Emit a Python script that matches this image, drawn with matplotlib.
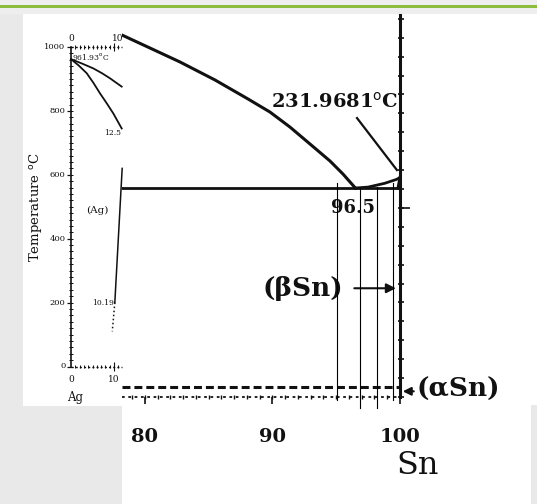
import matplotlib
matplotlib.use("Agg")
import matplotlib.pyplot as plt
from matplotlib.patches import Rectangle

# main panel: Sn-rich corner of the Ag-Sn diagram (wt% Sn, deg C)
liq_x = [78.20, 80.39, 82.75, 85.49, 88.08, 89.80, 91.37, 92.94, 94.51, 95.53, 96.5]
liq_T = [382.8, 369.1, 354.3, 335.3, 315.2, 301.4, 285.5, 267.6, 249.6, 235.8, 221.0]
snliq_x = [96.5, 97.5, 98.8, 99.7, 100.0]
snliq_T = [221.0, 222.0, 226.0, 230.0, 232.0]
sol_x = [100.0, 99.85]
sol_T = [232.0, 221.0]
eutectic_T = 221.0
alpha_T = 11.0
guide_x = [95.06, 96.9, 98.2, 99.45]
guide_top = [226, 221, 222, 226]
guide_bot = [-3, -12, -12, -3]
main_ticks = [80, 90, 100]

# inset: Ag-rich corner
in_liq_x = [0.0, 2.6, 5.19, 7.2, 9.07, 11.79]
in_liq_T = [961.93, 948, 933, 918, 902, 876]
in_sol_x = [0.0, 1.8, 3.65, 5.2, 6.74, 8.3, 9.84, 11.79]
in_sol_T = [961.93, 942, 918, 888, 855, 824, 792, 745]
in_solv_x = [11.9, 10.19]
in_solv_T = [620, 200]
in_solv_dot_x = [10.19, 9.6]
in_solv_dot_T = [200, 110]
in_yticks = [0, 200, 400, 600, 800, 1000]

W, H = 537, 504


def box(x0, y0, x1, y1):
    return [x0 / W, 1 - y1 / H, (x1 - x0) / W, (y1 - y0) / H]


def rect(x0, y0, x1, y1, color, z):
    b = box(x0, y0, x1, y1)
    fig.add_artist(Rectangle((b[0], b[1]), b[2], b[3], transform=fig.transFigure,
                             facecolor=color, edgecolor="none", zorder=z))


fig = plt.figure(figsize=(W / 100, H / 100), dpi=100, facecolor="#e9e9e9")
rect(0, 0, W, 5, "#efefef", -1)
rect(0, 5, W, 8, "#8dbd3e", -1)
rect(0, 8, W, 14, "#eeeeee", -1)
rect(122, 14, W, 405, "white", -1)
rect(122, 405, 531, H, "white", -1)

serif = "DejaVu Serif"
ink = "#111111"

# ---- main axes
ax = fig.add_axes(box(122, 15, 400, 397))
ax.set_zorder(1)
ax.patch.set_alpha(0)
ax.set_xlim(78.2, 100)
ax.set_ylim(0, 404)
ax.axis("off")

ax.plot(liq_x, liq_T, color=ink, lw=2.2, clip_on=False, solid_joinstyle="round")
ax.plot(snliq_x, snliq_T, color=ink, lw=2.0, clip_on=False)
ax.plot(sol_x, sol_T, color=ink, lw=2.2, clip_on=False)
ax.plot([78.2, 100], [eutectic_T, eutectic_T], color=ink, lw=2.0, clip_on=False)
ax.plot([78.2, 100], [alpha_T, alpha_T], color=ink, lw=2.2, dashes=(2.6, 1.3), clip_on=False)

# right (Sn) temperature axis
ax.plot([100, 100], [0, 404], color=ink, lw=2.2, clip_on=False)
ax.hlines(list(range(0, 404, 20)), 99.85, 100.3, color=ink, lw=1.2, clip_on=False)
ax.hlines([200], 100, 100.8, color=ink, lw=1.2, clip_on=False)

# bottom composition axis
ax.plot([78.2, 100], [0, 0], color=ink, lw=1.3, ls=(0, (1.5, 2)), clip_on=False)
ax.vlines([v for v in range(79, 100)], -2.5, 2.5, color=ink, lw=1.0, clip_on=False)
ax.vlines(main_ticks, -7, 0, color=ink, lw=1.2, clip_on=False)
for t in main_ticks:
    ax.text(t, -42, str(t), family=serif, fontsize=14, weight="bold", color=ink,
            ha="center", va="center", clip_on=False)
ax.text(101.4, -72, "Sn", family=serif, fontsize=23, color=ink,
        ha="center", va="center", clip_on=False)

# thin guide lines
for gx, gt, gb in zip(guide_x, guide_top, guide_bot):
    ax.plot([gx, gx], [gb, gt], color="black", lw=0.8, clip_on=False, zorder=5)

# labels
ax.text(94.9, 312, "231.9681$^{\\rm o}$C", family=serif, fontsize=14, weight="bold",
        color=ink, ha="center", va="center", clip_on=False)
ax.plot([96.63, 99.76], [295, 240], color=ink, lw=1.6, clip_on=False)
ax.text(96.3, 200, "96.5", family=serif, fontsize=13, weight="bold", color=ink,
        ha="center", va="center", clip_on=False)
ax.text(92.4, 115, "(\u03b2Sn)", family=serif, fontsize=19, weight="bold", color=ink,
        ha="center", va="center", clip_on=False)
ax.annotate("", xy=(99.9, 115), xytext=(96.2, 115),
            arrowprops=dict(arrowstyle="-|>", lw=1.5, color=ink, mutation_scale=14),
            annotation_clip=False)
ax.text(101.3, 8, "(\u03b1Sn)", family=serif, fontsize=19, weight="bold", color=ink,
        ha="left", va="center", clip_on=False)
ax.annotate("", xy=(100.0, 6), xytext=(101.3, 6),
            arrowprops=dict(arrowstyle="-|>", lw=1.5, color=ink, mutation_scale=12),
            annotation_clip=False)

# ---- inset panel
panel = fig.add_axes(box(23, 14, 122, 406))
panel.set_zorder(2)
panel.set_facecolor("white")
panel.set_xticks([])
panel.set_yticks([])
for s in panel.spines.values():
    s.set_visible(False)

ins = fig.add_axes(box(71, 47, 122, 366.5))
ins.set_zorder(3)
ins.patch.set_alpha(0)
ins.set_xlim(0, 11.86)
ins.set_ylim(0, 1000)
ins.axis("off")

ins.plot(in_liq_x, in_liq_T, color=ink, lw=1.3, clip_on=False)
ins.plot(in_sol_x, in_sol_T, color=ink, lw=1.3, clip_on=False)
ins.plot(in_solv_x, in_solv_T, color=ink, lw=1.1, clip_on=False)
ins.plot(in_solv_dot_x, in_solv_dot_T, color=ink, lw=1.1, ls=":", clip_on=False)

ins.plot([0, 0], [0, 1000], color=ink, lw=1.2, clip_on=False)
ins.hlines(list(range(0, 1001, 20)), -0.35, 0.35, color=ink, lw=0.7, clip_on=False)
ins.hlines(in_yticks, -0.9, 0, color=ink, lw=0.9, clip_on=False)
for t in in_yticks:
    ins.text(-1.3, t, str(t), family=serif, fontsize=6, color=ink,
             ha="right", va="center", clip_on=False)
for yy in (0, 1000):
    ins.plot([0, 11.86], [yy, yy], color=ink, lw=1.0, ls=(0, (1.5, 1.5)), clip_on=False)
    ins.vlines(list(range(1, 12)), yy - 6, yy + 6, color=ink, lw=0.7, clip_on=False)
    ins.vlines([10], yy - 14, yy + 14, color=ink, lw=0.8, clip_on=False)
ins.text(0, 1028, "0", family=serif, fontsize=6.5, color=ink, ha="center", va="center", clip_on=False)
ins.text(10.9, 1028, "10", family=serif, fontsize=6.5, color=ink, ha="center", va="center", clip_on=False)
ins.text(0, -42, "0", family=serif, fontsize=6.5, color=ink, ha="center", va="center", clip_on=False)
ins.text(10, -42, "10", family=serif, fontsize=6.5, color=ink, ha="center", va="center", clip_on=False)
ins.text(1.0, -98, "Ag", family=serif, fontsize=8.5, color=ink, ha="center", va="center", clip_on=False)
ins.text(0.3, 970, "961.93$^{\\rm o}$C", family=serif, fontsize=5.5, color=ink,
         ha="left", va="center", clip_on=False)
ins.text(11.6, 731, "12.5", family=serif, fontsize=5.5, color=ink, ha="right", va="center", clip_on=False)
ins.text(9.9, 200, "10.19", family=serif, fontsize=5.5, color=ink, ha="right", va="center", clip_on=False)
ins.text(6.1, 490, "(Ag)", family=serif, fontsize=7.5, color=ink, ha="center", va="center", clip_on=False)
ins.text(-8.3, 500, "Temperature $^{\\rm o}$C", family=serif, fontsize=9.5, color=ink,
         rotation=90, ha="center", va="center", clip_on=False)

fig.savefig("out.png", dpi=100, facecolor=fig.get_facecolor())
